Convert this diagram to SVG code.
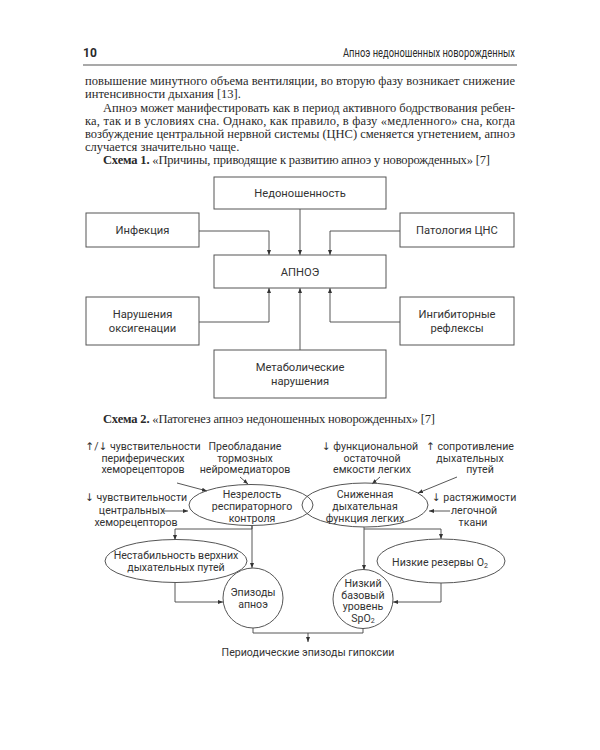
<svg xmlns="http://www.w3.org/2000/svg" width="600" height="750" viewBox="0 0 600 750">
<defs>
<marker id="ah" viewBox="0 0 10 10" refX="10" refY="5" markerWidth="5" markerHeight="5" orient="auto" markerUnits="userSpaceOnUse">
<path d="M0,1 L10,5 L0,9 z" fill="#333"/>
</marker>
<style>
.body{font-family:"Liberation Serif",serif;font-size:12.5px;fill:#2a2a2a}
.hd{font-family:Roboto,"DejaVu Sans",sans-serif;font-size:12px;fill:#2a2a2a}
.d{font-family:Roboto,"DejaVu Sans",sans-serif;font-size:10.6px;fill:#333;text-anchor:middle}
.d1{font-family:Roboto,"DejaVu Sans",sans-serif;font-size:11.2px;fill:#333;text-anchor:middle}
.box{fill:#fff;stroke:#555;stroke-width:1}
.sh{fill:none;stroke:#555;stroke-width:1}
.c{fill:none;stroke:#444;stroke-width:0.9}
.ca{fill:none;stroke:#444;stroke-width:0.9;marker-end:url(#ah)}
</style>
</defs>
<rect width="600" height="750" fill="#fff"/>

<g id="header">
<text class="hd" x="83" y="57" font-weight="bold">10</text>
<text class="hd" x="515" y="57" text-anchor="end" textLength="172" lengthAdjust="spacingAndGlyphs">Апноэ недоношенных новорожденных</text>
<line x1="83" y1="65" x2="517" y2="65" stroke="#555" stroke-width="1.2"/>
</g>

<g id="paragraph">
<text class="body" x="85" y="85" textLength="430" lengthAdjust="spacing">повышение минутного объема вентиляции, во вторую фазу возникает снижение</text>
<text class="body" x="85" y="98">интенсивности дыхания [13].</text>
<text class="body" x="103" y="111.5" textLength="412" lengthAdjust="spacing">Апноэ может манифестировать как в период активного бодрствования ребен-</text>
<text class="body" x="85" y="124.5" textLength="430" lengthAdjust="spacing">ка, так и в условиях сна. Однако, как правило, в фазу «медленного» сна, когда</text>
<text class="body" x="85" y="138" textLength="430" lengthAdjust="spacing">возбуждение центральной нервной системы (ЦНС) сменяется угнетением, апноэ</text>
<text class="body" x="85" y="151">случается значительно чаще.</text>
<text class="body" x="103" y="164" textLength="387" lengthAdjust="spacing"><tspan font-weight="bold">Схема 1.</tspan> «Причины, приводящие к развитию апноэ у новорожденных» [7]</text>
</g>

<g id="s1-connectors">
<path class="ca" d="M199,231 H269 V255"/>
<path class="ca" d="M300,209 V255"/>
<path class="ca" d="M400,231 H330 V255"/>
<path class="ca" d="M199,322 H269 V288"/>
<path class="ca" d="M300,350 V288"/>
<path class="ca" d="M400,322 H330 V288"/>
</g>

<g id="s1-nedonosh"><rect class="box" x="214" y="177" width="172" height="32"/><text class="d1" x="300" y="197">Недоношенность</text></g>
<g id="s1-infekcia"><rect class="box" x="86" y="213" width="113" height="34"/><text class="d1" x="142.5" y="234">Инфекция</text></g>
<g id="s1-patcns"><rect class="box" x="400" y="213" width="114" height="34"/><text class="d1" x="457" y="234">Патология ЦНС</text></g>
<g id="s1-apnoe"><rect class="box" x="214" y="255" width="172" height="33"/><text class="d1" x="300" y="276">АПНОЭ</text></g>
<g id="s1-oksi"><rect class="box" x="86" y="297" width="113" height="48"/><text class="d1" x="142.5" y="318">Нарушения</text><text class="d1" x="142.5" y="332">оксигенации</text></g>
<g id="s1-ingib"><rect class="box" x="400" y="297" width="114" height="48"/><text class="d1" x="457" y="318">Ингибиторные</text><text class="d1" x="457" y="332">рефлексы</text></g>
<g id="s1-metab"><rect class="box" x="214" y="350" width="172" height="48"/><text class="d1" x="300" y="371">Метаболические</text><text class="d1" x="300" y="385">нарушения</text></g>

<g id="caption2">
<text class="body" x="103" y="423" textLength="332" lengthAdjust="spacing"><tspan font-weight="bold">Схема 2.</tspan> «Патогенез апноэ недоношенных новорожденных» [7]</text>
</g>

<g id="s2-connectors">
<path class="ca" d="M177,483 L207,491"/>
<path class="ca" d="M240,477 L248,484"/>
<path class="ca" d="M163,511 L188,511"/>
<path class="ca" d="M380,477 L372,484"/>
<path class="ca" d="M457,477 L418,493"/>
<path class="ca" d="M450,511 L429,511"/>
<path class="ca" d="M252,525 V529 H175 V540"/>
<path class="ca" d="M252,525 V568"/>
<path class="ca" d="M175,582 V602 H223"/>
<path class="ca" d="M364,527 V570"/>
<path class="ca" d="M364,529 H441 V539"/>
<path class="ca" d="M441,583 V602 H393"/>
<path class="c" d="M253,628 V633 H363 V628"/>
<path class="ca" d="M308,633 V642"/>
</g>

<g id="s2-periph"><text class="d" x="143" y="450">↑/↓ чувствительности</text><text class="d" x="143" y="461.5">периферических</text><text class="d" x="143" y="473">хеморецепторов</text></g>
<g id="s2-preobl"><text class="d" x="245" y="450">Преобладание</text><text class="d" x="245" y="461.5">тормозных</text><text class="d" x="245" y="473">нейромедиаторов</text></g>
<g id="s2-central"><text class="d" x="136" y="501">↓ чувствительности</text><text class="d" x="132" y="514">центральных</text><text class="d" x="136" y="525.5">хеморецепторов</text></g>
<g id="s2-foe"><text class="d" x="370" y="450">↓ функциональной</text><text class="d" x="372" y="461.5">остаточной</text><text class="d" x="372" y="473">емкости легких</text></g>
<g id="s2-sopr"><text class="d" x="470" y="450">↑ сопротивление</text><text class="d" x="470" y="461.5">дыхательных</text><text class="d" x="480" y="473">путей</text></g>
<g id="s2-rast"><text class="d" x="474" y="501">↓ растяжимости</text><text class="d" x="474" y="514">легочной</text><text class="d" x="473" y="525.5">ткани</text></g>

<g id="s2-nezrel"><ellipse class="sh" cx="251" cy="505" rx="62" ry="20.5"/><text class="d" x="252" y="498">Незрелость</text><text class="d" x="252" y="510">респираторного</text><text class="d" x="252" y="522">контроля</text></g>
<g id="s2-snizh"><ellipse class="sh" cx="365" cy="505" rx="63" ry="22"/><text class="d" x="365" y="498">Сниженная</text><text class="d" x="365" y="510">дыхательная</text><text class="d" x="365" y="522">функция легких</text></g>
<g id="s2-nestab"><ellipse class="sh" cx="176" cy="561" rx="71" ry="21.5"/><text class="d" x="176" y="559">Нестабильность верхних</text><text class="d" x="176" y="571">дыхательных путей</text></g>
<g id="s2-rezerv"><ellipse class="sh" cx="441" cy="561" rx="64" ry="22"/><text class="d" x="440" y="566">Низкие резервы O<tspan font-size="7" dy="1.5">2</tspan></text></g>
<g id="s2-epizody"><circle class="sh" cx="253" cy="598" r="30"/><text class="d" x="253" y="596">Эпизоды</text><text class="d" x="253" y="608">апноэ</text></g>
<g id="s2-spo2"><ellipse class="sh" cx="363" cy="599" rx="30" ry="29.5"/><text class="d" x="363" y="587">Низкий</text><text class="d" x="363" y="598.5">базовый</text><text class="d" x="363" y="610">уровень</text><text class="d" x="363" y="621.5">SpO<tspan font-size="7" dy="1.5">2</tspan></text></g>
<g id="s2-gipoksia"><text class="d" x="308" y="656">Периодические эпизоды гипоксии</text></g>
</svg>
